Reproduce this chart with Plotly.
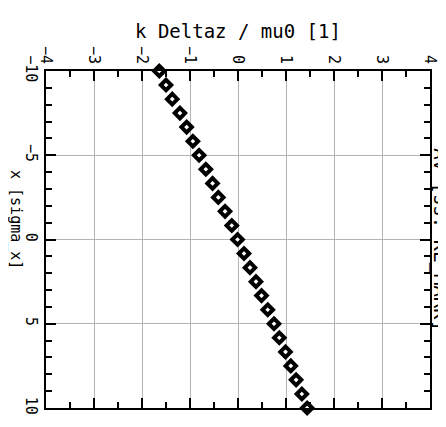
import plotly.graph_objects as go

# positions along the beam, in units of sigma_x
x_sigma = [-10.0, -9.17, -8.33, -7.5, -6.67, -5.83, -5.0, -4.17, -3.33, -2.5, -1.67, -0.83,
           0.0, 0.83, 1.67, 2.5, 3.33, 4.17, 5.0, 5.83, 6.67, 7.5, 8.33, 9.17, 10.0]
# kick k*Deltaz/mu0
k_dz = [-1.64, -1.50, -1.37, -1.21, -1.07, -0.94, -0.81, -0.67, -0.53, -0.41, -0.27, -0.13,
        -0.01, 0.125, 0.25, 0.375, 0.49, 0.62, 0.75, 0.86, 0.99, 1.10, 1.21, 1.33, 1.44]

xticks = [-4, -3, -2, -1, 0, 1, 2, 3, 4]
yticks = [-10, -5, 0, 5, 10]

FONT = "DejaVu Sans Mono"

fig = go.Figure()
fig.add_trace(go.Scatter(
    x=k_dz, y=x_sigma, mode="markers", cliponaxis=False,
    marker=dict(symbol="diamond", size=8, color="white",
                line=dict(color="black", width=4)),
    showlegend=False,
))

axis_common = dict(
    showline=True, linecolor="black", linewidth=1.5, mirror="allticks",
    ticks="inside", ticklen=10, tickcolor="black", tickwidth=1.5,
    showgrid=True, gridcolor="#b4b4b4", gridwidth=1, zeroline=False,
    tickangle=90, automargin=False,
    tickfont=dict(family=FONT, size=15, color="black"),
)

# the page body adds ~8px, so margins are trimmed to land the frame where the original sits
fig.update_layout(
    width=446, height=427,
    margin=dict(l=38, r=24, t=63, b=27),
    plot_bgcolor="white", paper_bgcolor="white",
    xaxis=dict(range=[-4, 4], side="top", tickvals=xticks,
               minor=dict(dtick=0.5, ticks="inside", ticklen=6, tickcolor="black", showgrid=False),
               **axis_common),
    yaxis=dict(range=[10, -10], tickvals=yticks,
               minor=dict(dtick=1, ticks="inside", ticklen=6, tickcolor="black", showgrid=False),
               **axis_common),
    annotations=[
        dict(text="k Deltaz / mu0 [1]", xref="paper", yref="paper", x=0.5, y=1.12,
             showarrow=False, xanchor="center", yanchor="middle",
             font=dict(family=FONT, size=19, color="black")),
        dict(text="x [sigma_x]", xref="paper", yref="paper", x=-0.08, y=0.56,
             showarrow=False, textangle=90, xanchor="center", yanchor="middle",
             font=dict(family=FONT, size=15, color="black")),
        dict(text="Av [ss. KL_MARK]", xref="paper", yref="paper", x=1.027, y=0.5,
             showarrow=False, textangle=90, xanchor="center", yanchor="middle",
             font=dict(family=FONT, size=19, color="black")),
    ],
)

fig.write_html("out.html")
